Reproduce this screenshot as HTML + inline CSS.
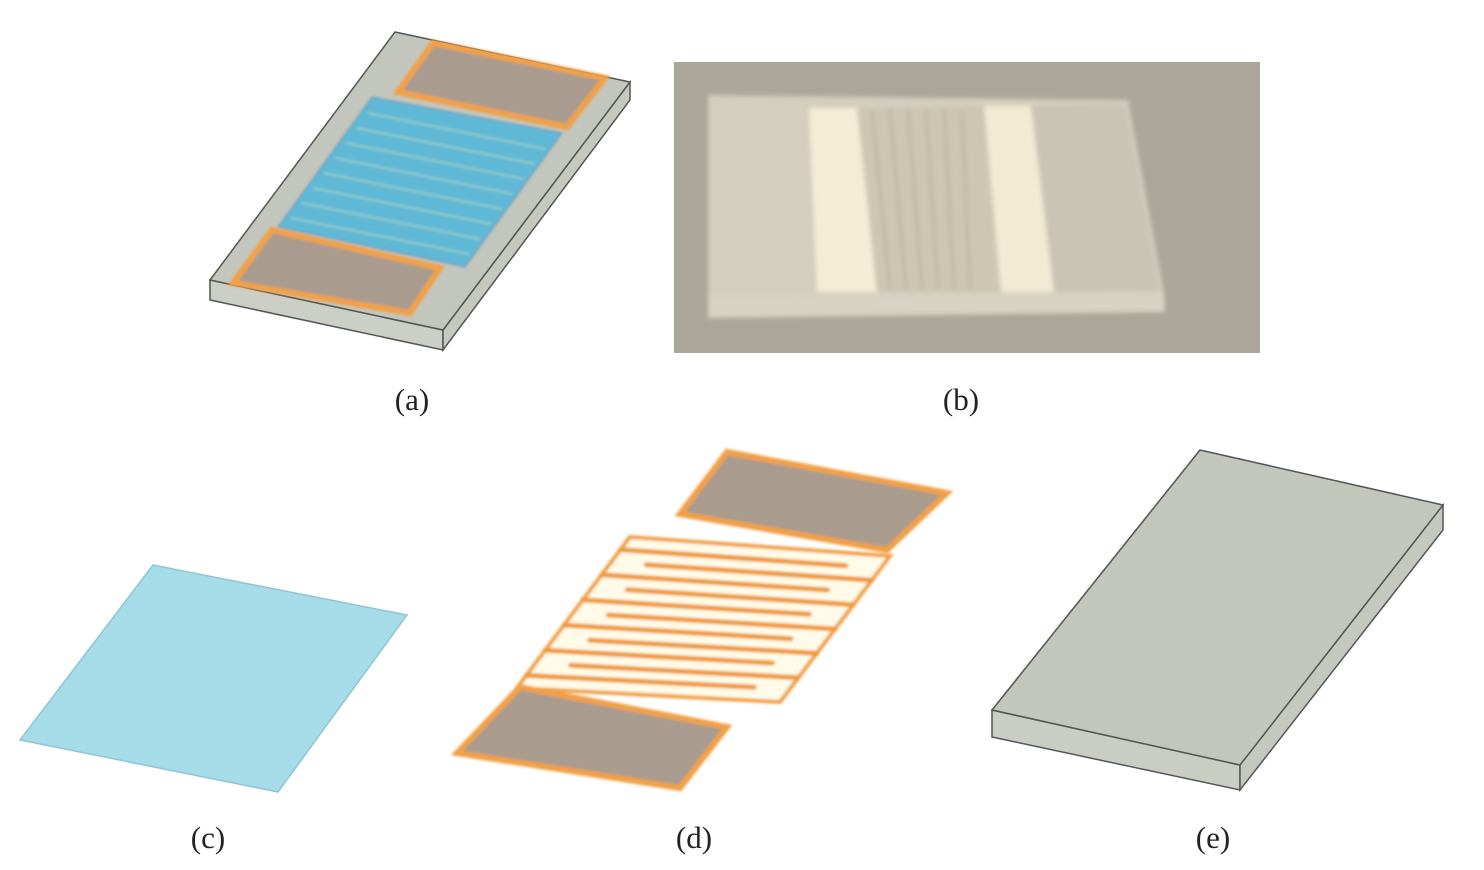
<!DOCTYPE html>
<html><head><style>
body{margin:0;background:#fff;width:1484px;height:870px;overflow:hidden}
svg{position:absolute;left:0;top:0}
text{font-family:"Liberation Serif",serif;font-size:31px;fill:#222}
</style></head><body>
<svg width="1484" height="870" viewBox="0 0 1484 870">
<defs><filter id="bl"><feGaussianBlur stdDeviation="1.2"/></filter>
<filter id="bl2"><feGaussianBlur stdDeviation="2.5"/></filter></defs>
<!-- (a) -->
<polygon points="210,280 443,330 443,350 210,300" fill="#cbcfc6" stroke="#555" stroke-width="1.5"/>
<polygon points="630,82 630,100 443,350 443,330" fill="#c4c8bf" stroke="#555" stroke-width="1.5"/>
<polygon points="395,32 630,82 443,330 210,280" fill="#c2c6bc" stroke="#555" stroke-width="1.5"/>
<g filter="url(#bl)">
<polygon points="433,43 605,78 567,127 398,92" fill="#a99b8e" stroke="#f2a046" stroke-width="6"/>
<polygon points="372,97 562,133 465,267 278,227" fill="#5fb8d6" stroke="#7a90b0" stroke-width="1"/>
<g stroke="#8ec8c8" stroke-width="2.5">
<line x1="368" y1="113" x2="545" y2="149"/><line x1="357" y1="128" x2="535" y2="164"/>
<line x1="346" y1="143" x2="524" y2="179"/><line x1="335" y1="158" x2="513" y2="194"/>
<line x1="324" y1="173" x2="502" y2="209"/><line x1="313" y1="188" x2="491" y2="224"/>
<line x1="302" y1="203" x2="480" y2="239"/><line x1="291" y1="218" x2="469" y2="254"/>
</g>
<polygon points="272,230 440,268 410,313 233,283" fill="#a99b8e" stroke="#f2a046" stroke-width="6"/>
</g>
<!-- (b) -->
<rect x="674" y="62" width="586" height="291" fill="#aaa698"/>
<g filter="url(#bl2)">
<polygon points="708,295 1164,292 1165,312 708,318" fill="#d8d3c2"/>
<polygon points="708,95 1128,100 1164,292 708,295" fill="#d3cebd"/>
<polygon points="809,108 857,108 877,292 817,292" fill="#f4ecd4"/>
<polygon points="857,108 984,106 1000,292 877,292" fill="#ccc6b2"/>
<g stroke="#b5af9c" stroke-width="2">
<line x1="872" y1="110" x2="890" y2="290"/><line x1="890" y1="110" x2="906" y2="290"/>
<line x1="908" y1="110" x2="922" y2="290"/><line x1="926" y1="110" x2="938" y2="290"/>
<line x1="944" y1="110" x2="954" y2="290"/><line x1="962" y1="110" x2="970" y2="290"/>
</g>
<polygon points="984,106 1031,106 1054,292 1001,292" fill="#f2ead2"/>
<polygon points="1031,106 1125,104 1160,290 1054,292" fill="#c9c4b3"/>
</g>
<!-- (c) -->
<polygon points="153,565 407,615 278,792 20,740" fill="#a6dbe8" stroke="#8fc6d4" stroke-width="1.5"/>
<!-- (d) -->
<g filter="url(#bl)">
<polygon points="727,452 947,493 887,550 680,514" fill="#a99b8e" stroke="#f2a046" stroke-width="6"/>
<polygon points="630,537 890,556 780,702 517,688" fill="#fffbe8" stroke="#f2a046" stroke-width="4"/>
<g stroke="#ef9a3e" stroke-width="5" stroke-linecap="round" fill="none">
<line x1="620.6" y1="549.6" x2="845.8" y2="565.7"/>
<line x1="646.2" y1="564.7" x2="871.7" y2="580.3"/>
<line x1="601.8" y1="574.8" x2="827.5" y2="590"/>
<line x1="627.3" y1="589.8" x2="853.3" y2="604.7"/>
<line x1="582.9" y1="599.9" x2="809.2" y2="614.3"/>
<line x1="608.5" y1="615" x2="835" y2="629"/>
<line x1="564.1" y1="625.1" x2="790.8" y2="638.7"/>
<line x1="589.7" y1="640.2" x2="816.7" y2="653.3"/>
<line x1="545.3" y1="650.3" x2="772.5" y2="663"/>
<line x1="570.8" y1="665.3" x2="798.3" y2="677.7"/>
<line x1="526.4" y1="675.4" x2="754.2" y2="687.3"/>
</g>
<polygon points="520,687 727,727 680,788 457,753" fill="#a99b8e" stroke="#f2a046" stroke-width="6"/>
</g>
<!-- (e) -->
<polygon points="992,710 1240,765 1240,790 992,737" fill="#c9cdc4" stroke="#555" stroke-width="1.5"/>
<polygon points="1443,505 1443,530 1240,790 1240,765" fill="#c4c8bf" stroke="#555" stroke-width="1.5"/>
<polygon points="1200,450 1443,505 1240,765 992,710" fill="#c2c6bc" stroke="#555" stroke-width="1.5"/>
<text x="412" y="410" text-anchor="middle">(a)</text>
<text x="961" y="410" text-anchor="middle">(b)</text>
<text x="208" y="848" text-anchor="middle">(c)</text>
<text x="694" y="848" text-anchor="middle">(d)</text>
<text x="1213" y="848" text-anchor="middle">(e)</text>
</svg>
</body></html>
